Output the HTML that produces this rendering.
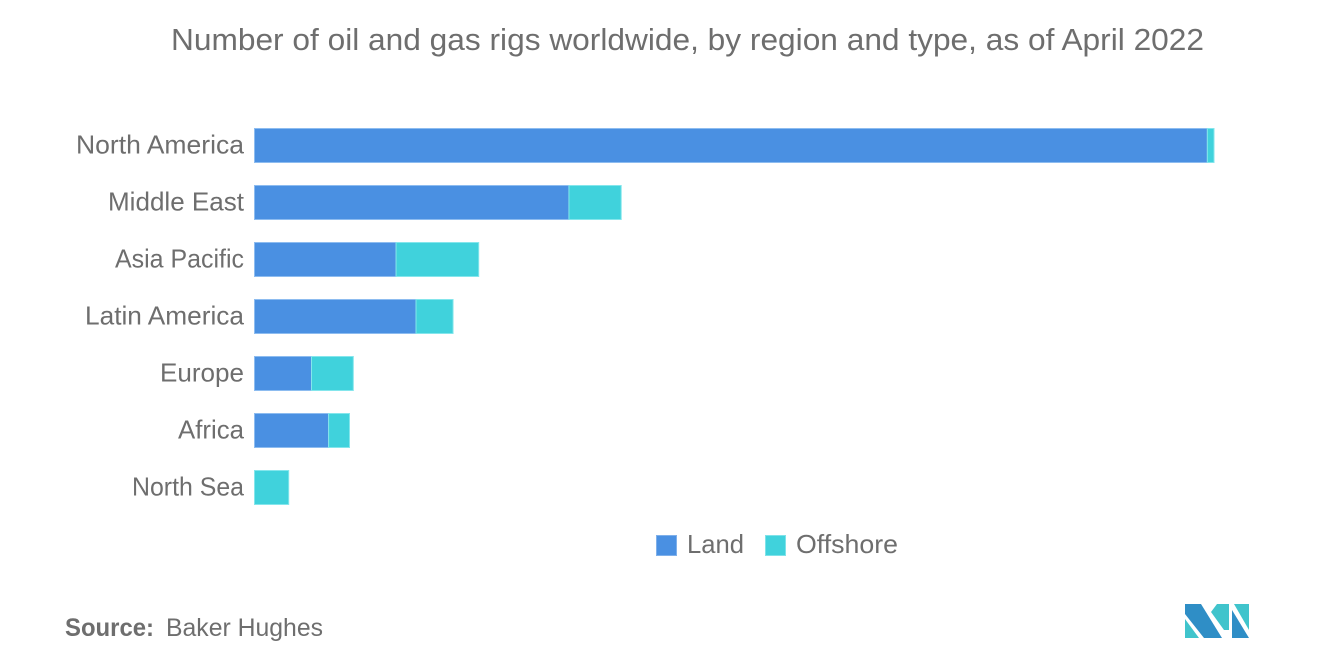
<!DOCTYPE html>
<html lang="en">
<head>
<meta charset="utf-8">
<title>Number of oil and gas rigs worldwide</title>
<style>
html,body{margin:0;padding:0;background:#fff;width:1320px;height:665px;overflow:hidden}
svg{display:block}
text{font-family:"Liberation Sans",sans-serif;fill:#6e6e6e}
</style>
</head>
<body>
<svg id="chart" xmlns="http://www.w3.org/2000/svg" width="1320" height="665" viewBox="0 0 1320 665">
  <text x="171" y="50" font-size="31" textLength="1033" lengthAdjust="spacingAndGlyphs">Number of oil and gas rigs worldwide, by region and type, as of April 2022</text>
  <g id="bars"></g>
  <g id="labels"></g>
  <g>
    <g>
      <rect x="656.5" y="535.5" width="20" height="20" fill="#4a90e2" stroke="#7fb0ea" stroke-width="1"/>
      <text x="687" y="553" font-size="26" textLength="57" lengthAdjust="spacingAndGlyphs">Land</text>
    </g>
    <g>
      <rect x="765.5" y="535.5" width="20" height="20" fill="#40d2dc" stroke="#7fe2e9" stroke-width="1"/>
      <text x="796" y="553" font-size="26" textLength="102" lengthAdjust="spacingAndGlyphs">Offshore</text>
    </g>
  </g>
  <g>
    <text x="65" y="636" font-size="25" font-weight="bold" textLength="89" lengthAdjust="spacingAndGlyphs">Source:</text>
    <text x="166" y="636" font-size="25" textLength="157" lengthAdjust="spacingAndGlyphs">Baker Hughes</text>
  </g>
  <g>
    <polygon points="1185,619 1185,638 1199,638" fill="#40c4cc"/>
    <polygon points="1185,604 1201,604 1222,638 1204,638 1185,614" fill="#2f8ec6"/>
    <polygon points="1217,604 1229,604 1229,630 1224,630 1211,612" fill="#40c4cc"/>
    <polygon points="1232,610 1232,638 1249,638" fill="#2f8ec6"/>
    <polygon points="1234,604 1249,604 1249,630" fill="#40c4cc"/>
  </g>
</svg>
<script>
const categories = ["North America", "Middle East", "Asia Pacific", "Latin America", "Europe", "Africa", "North Sea"];
const landValues = [1003, 331, 149, 170, 60, 78, 0];
const offshoreValues = [7, 55, 87, 39, 44, 22, 36];

const NS = "http://www.w3.org/2000/svg";
function xScale(v) { return 254.5 + v * 0.95; }
function yBand(i) { return 128.5 + i * 57; }
const bandHeight = 34;
const barsGroup = document.getElementById("bars");
const labelsGroup = document.getElementById("labels");

function labelWidth(cat) {
  const w = { "North America": 168, "Middle East": 136, "Asia Pacific": 129, "Latin America": 159, "Europe": 84, "Africa": 66, "North Sea": 112 };
  return w[cat];
}

function drawBar(start, value, i, fill, stroke, name) {
  if (value <= 0) return;
  const r = document.createElementNS(NS, "rect");
  r.setAttribute("x", xScale(start));
  r.setAttribute("y", yBand(i));
  r.setAttribute("width", xScale(start + value) - xScale(start));
  r.setAttribute("height", bandHeight);
  r.setAttribute("fill", fill);
  r.setAttribute("stroke", stroke);
  r.setAttribute("stroke-width", "1");
  
  
  barsGroup.appendChild(r);
}

categories.forEach(function (cat, i) {
  const slug = cat.toLowerCase().replace(/\s+/g, "-");
  drawBar(0, landValues[i], i, "#4a90e2", "#8dbcf0", "bar-land-" + slug);
  drawBar(landValues[i], offshoreValues[i], i, "#40d2dc", "#84e6ec", "bar-offshore-" + slug);
  const t = document.createElementNS(NS, "text");
  t.setAttribute("x", 244);
  t.setAttribute("y", yBand(i) + 25);
  t.setAttribute("text-anchor", "end");
  t.setAttribute("font-size", "26");
  const w = labelWidth(cat);
  if (w) {
    t.setAttribute("textLength", w);
    t.setAttribute("lengthAdjust", "spacingAndGlyphs");
  }
  
  
  t.textContent = cat;
  labelsGroup.appendChild(t);
});
</script>
</body>
</html>
